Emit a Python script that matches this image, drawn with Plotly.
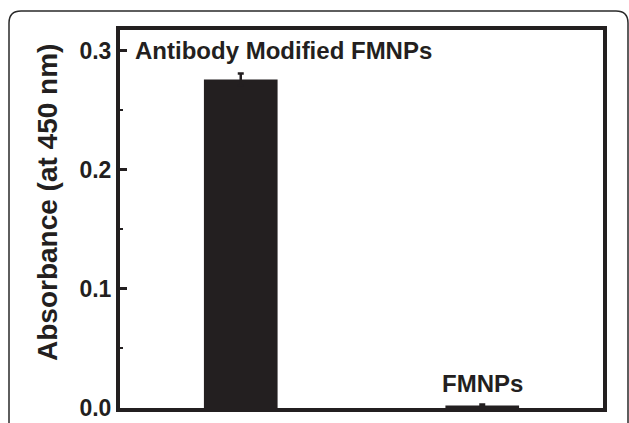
import plotly.graph_objects as go

categories = ["Antibody Modified FMNPs", "FMNPs"]
absorbance = [0.276, 0.002]
errors = [0.005, 0.001]
y_ticks = [0.0, 0.1, 0.2, 0.3]
y_tick_labels = ["0.0", "0.1", "0.2", "0.3"]
y_title = "Absorbance (at 450 nm)"

W, H = 629, 423
L, R, T, B = 120, 26, 30, 15
pw, ph = W - L - R, H - T - B
dark = "#231f20"
FONT = "Liberation Sans, Arial, Helvetica, sans-serif"

fig = go.Figure()
fig.add_trace(go.Bar(
    x=[0, 1], y=absorbance, width=0.305,
    marker=dict(color=dark, line=dict(width=0)),
    error_y=dict(type="data", array=errors, visible=True, color=dark, thickness=2.5, width=3),
))

def px(x):
    return (x - L) / pw

def py(y):
    return (H - B - y) / ph

# outer rounded frame (open at bottom, extends beyond the picture)
r = 12
x0, x1, y0, y1 = 9, 628, 11, 440
path = (f"M {px(x0)},{py(y1)} L {px(x0)},{py(y0 + r)} "
        f"Q {px(x0)},{py(y0)} {px(x0 + r)},{py(y0)} "
        f"L {px(x1 - r)},{py(y0)} Q {px(x1)},{py(y0)} {px(x1)},{py(y0 + r)} "
        f"L {px(x1)},{py(y1)}")
fig.add_shape(type="path", path=path, xref="paper", yref="paper",
              line=dict(color="#2a2a2a", width=1.5), layer="below")

fig.add_annotation(x=px(133), y=0.3, xref="paper", yref="y", text=categories[0],
                   showarrow=False, xanchor="left", yanchor="middle",
                   font=dict(family=FONT, size=24, color=dark, weight="bold"))
fig.add_annotation(x=1, y=0.021, xref="x", yref="y", text=categories[1],
                   showarrow=False, xanchor="center", yanchor="middle",
                   font=dict(family=FONT, size=24, color=dark, weight="bold"))
fig.add_annotation(x=px(47), y=py(203), xref="paper", yref="paper", text=y_title,
                   showarrow=False, xanchor="center", yanchor="middle", textangle=-90,
                   font=dict(family=FONT, size=28, color=dark, weight="bold"))

fig.update_layout(
    width=W, height=H,
    margin=dict(l=L, r=R, t=T, b=B, pad=0, autoexpand=False),
    paper_bgcolor="white", plot_bgcolor="white",
    showlegend=False,
    font=dict(family=FONT, color=dark),
    xaxis=dict(range=[-0.5, 1.5], showticklabels=False, ticks="", showgrid=False, automargin=False,
               zeroline=False, showline=True, linecolor=dark, linewidth=4, mirror=True),
    yaxis=dict(range=[0, 0.3176], tickvals=y_ticks, ticktext=y_tick_labels, automargin=False,
               ticks="inside", ticklen=7, tickwidth=3, tickcolor=dark,
               minor=dict(dtick=0.05, ticks="inside", ticklen=3, tickwidth=2, tickcolor=dark),
               showgrid=False, zeroline=False, showline=True, linecolor=dark, linewidth=4, mirror=True,
               tickfont=dict(size=23, weight="bold", color=dark)),
)

fig.write_html("out.html", config={"displayModeBar": False},
               post_script="document.body.style.margin='0px';")
